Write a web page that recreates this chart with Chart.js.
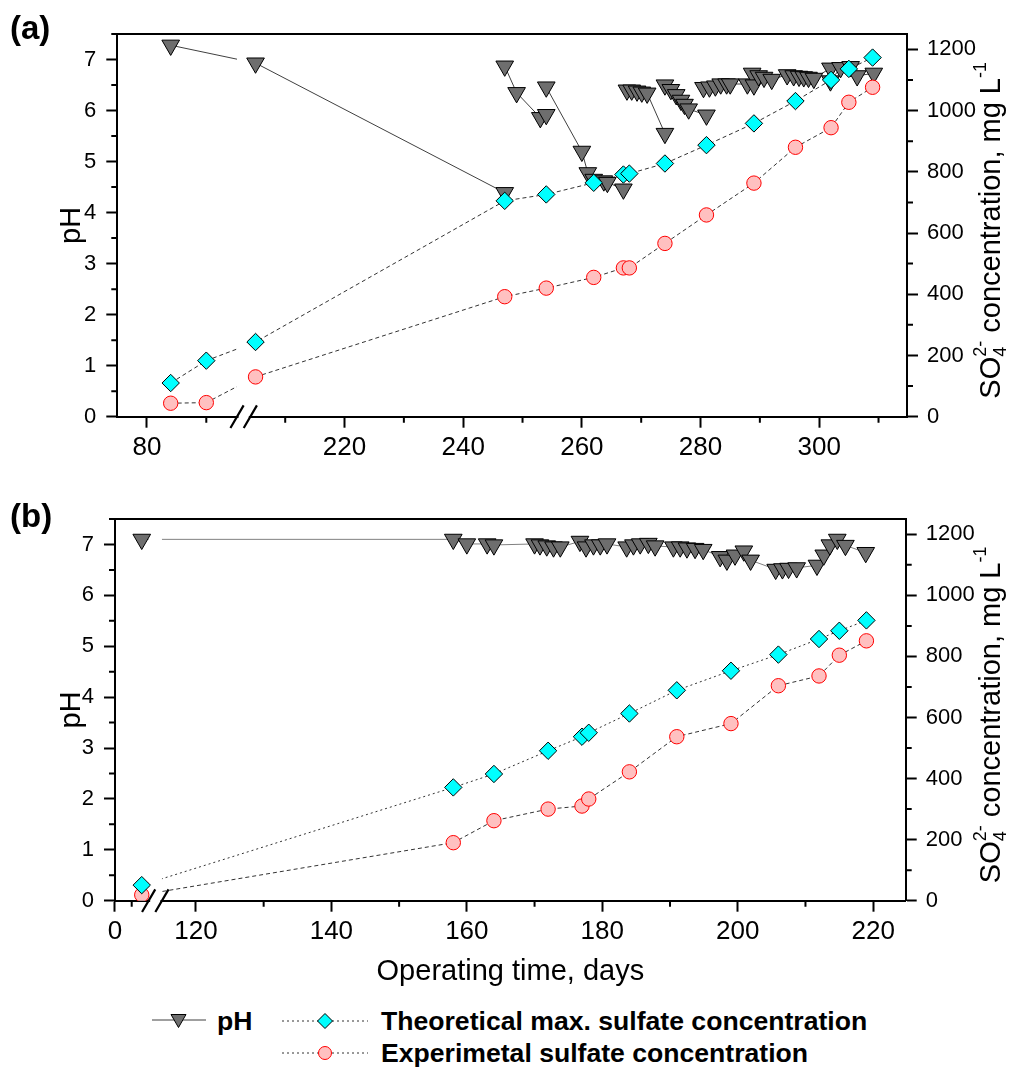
<!DOCTYPE html>
<html>
<head>
<meta charset="utf-8">
<title>pH and sulfate concentration vs operating time</title>
<script src="https://cdn.jsdelivr.net/npm/chart.js@4.4.1/dist/chart.umd.min.js"></script>
<style>
html,body{margin:0;padding:0;background:#fff;}
body{position:relative;width:1034px;height:1068px;overflow:hidden;font-family:"Liberation Sans",Arial,sans-serif;color:#000;}
canvas{position:absolute;left:0;}
#ca{top:0;}
#cb{top:480px;}
.panel{position:absolute;left:10px;font-weight:bold;font-size:33px;line-height:33px;}
.lg-text{position:absolute;font-weight:bold;font-size:26.6px;line-height:30px;white-space:nowrap;}
.lg-icon{position:absolute;overflow:visible;}
</style>
</head>
<body>
<canvas id="ca" width="1034" height="480"></canvas>
<canvas id="cb" width="1034" height="520"></canvas>
<div class="panel" style="top:11px">(a)</div>
<div class="panel" style="top:499px">(b)</div>

<svg class="lg-icon" style="left:152px;top:1010px" width="54" height="22">
  <line x1="0" y1="10" x2="54" y2="10" stroke="#404040" stroke-width="1"/>
  <polygon points="19,4.5 34,4.5 26.5,17.5" fill="#6E6E6E" stroke="#000" stroke-width="1"/>
</svg>
<div class="lg-text" id="lg0" style="left:217px;top:1006px"></div>
<svg class="lg-icon" style="left:282px;top:1010px" width="86" height="22">
  <line x1="0" y1="11" x2="86" y2="11" stroke="#333" stroke-width="1" stroke-dasharray="2,3"/>
  <polygon points="43,3.5 50.5,11 43,18.5 35.5,11" fill="#00FFFF" stroke="#000" stroke-width="1"/>
</svg>
<div class="lg-text" id="lg1" style="left:381px;top:1006px"></div>
<svg class="lg-icon" style="left:282px;top:1042px" width="86" height="22">
  <line x1="0" y1="11" x2="86" y2="11" stroke="#333" stroke-width="1" stroke-dasharray="2,3"/>
  <circle cx="43" cy="11" r="6.5" fill="#FFC0C0" stroke="#FF0000" stroke-width="1"/>
</svg>
<div class="lg-text" id="lg2" style="left:381px;top:1038px"></div>

<script>
// ================= DATA =================
const seriesNames = ['pH', 'Theoretical max. sulfate concentration', 'Experimetal sulfate concentration'];

// ---- Panel (a) ----
const sulfDaysA = [84, 90, 205, 247, 254, 262, 267, 268, 274, 281, 289, 296, 302, 305, 309];
const theoA     = [110, 183, 244, 705, 726, 764, 791, 794, 827, 887, 958, 1031, 1100, 1136, 1173];
const expA      = [44, 46, 130, 392, 420, 455, 486, 486, 566, 659, 763, 880, 944, 1027, 1076];
// null = break in the pH line
const phDaysA = [84, 205, 247, null,
  247, 249, 253, 254, null,
  254, 260, 261, 262, 263.7, 264.3, 267, null,
  267.6, 268.4, 269.3, 270.1, 271, 274, null,
  274, 275, 275.9, 276.7, 277.3, 278, 281, null,
  280.5, 281.5, 282.5, 283.4, 284.4, 285, 287.9, 288.7, 289, 289.8, 290.7, 292,
  294.6, 295.7, 296.6, 297.4, 298.2, 299.1, 301.9, 301.9, 303.6, 305.3, 306.4, 309.2];
const phA = [7.28, 6.93, 4.39, null,
  6.87, 6.35, 5.86, 5.92, null,
  6.46, 5.20, 4.78, 4.65, 4.62, 4.59, 4.46, null,
  6.40, 6.40, 6.38, 6.36, 6.34, 5.55, null,
  6.50, 6.41, 6.31, 6.20, 6.12, 6.03, 5.91, null,
  6.45, 6.46, 6.48, 6.52, 6.52, 6.52, 6.52, 6.73, 6.50, 6.68, 6.65, 6.61,
  6.70, 6.68, 6.67, 6.66, 6.65, 6.63, 6.83, 6.58, 6.84, 6.86, 6.68, 6.73];

// ---- Panel (b) ----
const sulfDaysB = [16, 158, 164, 172, 177, 178, 184, 191, 199, 206, 212, 215, 219];
const theoB     = [51, 371, 415, 491, 537, 550, 613, 689, 753, 806, 857, 884, 918];
const expB      = [19, 190, 262, 300, 310, 333, 422, 537, 580, 704, 736, 804, 851];
const phDaysB = [16, 158, 160, 163, 164, 170, 170.8, 171.8, 172.8, 173.8, 176.7, 177.6, 178.7, 179.7, 180.7,
  183.6, 184.6, 185.6, 186.8, 187.8, 190.5, 191.5, 192.5, 193.7, 194.9, 197.4, 198.4, 199.6, 200.9, 201.9,
  205.6, 206.6, 207.5, 208.7, 211.7, 212.7, 213.6, 214.7, 215.9, 218.9];
const phB = [7.10, 7.10, 7.01, 7.01, 6.99, 7.01, 6.99, 6.97, 6.95, 6.95, 7.06, 6.95, 6.99, 6.99, 7.01,
  6.95, 6.99, 7.01, 7.02, 6.97, 6.95, 6.95, 6.93, 6.92, 6.90, 6.76, 6.69, 6.79, 6.87, 6.69,
  6.51, 6.52, 6.53, 6.54, 6.59, 6.79, 6.99, 7.10, 6.98, 6.84];

// ---- Tick values / labels ----
const xMajorA = [80, 220, 240, 260, 280, 300];
const xMinorA = [90, 210, 230, 250, 270, 290, 310];
const xMajorB = [0, 120, 140, 160, 180, 200, 220];
const xMinorB = [10, 130, 150, 170, 190, 210];
const phTicks = [0, 1, 2, 3, 4, 5, 6, 7];
const phMinor = [0.5, 1.5, 2.5, 3.5, 4.5, 5.5, 6.5, 7.5];
const concTicks = [0, 200, 400, 600, 800, 1000, 1200];
const concMinor = [100, 300, 500, 700, 900, 1100];

// ================= RENDERING =================
document.getElementById('lg0').textContent = seriesNames[0];
document.getElementById('lg1').textContent = seriesNames[1];
document.getElementById('lg2').textContent = seriesNames[2];

const FONT = '"Liberation Sans", Arial, sans-serif';
const MAJOR = 11, MINOR = 6, GAP = 13.3;

// broken axis: left segment squeezed into the right segment's day units
function makeMap(b) {
  return d => d <= b.leftEnd ? b.rightStart - (b.leftEnd - d) * b.leftScale : d;
}

function drawRightTitle(ctx, x, yc, size) {
  const big = size + 'px ' + FONT, small = Math.round(size * 0.62) + 'px ' + FONT;
  const parts = [
    {t: 'SO', f: big, dy: 0, adv: true},
    {t: '4', f: small, dy: size * 0.2, adv: false},
    {t: '2-', f: small, dy: -size * 0.48, adv: true, stacked: true},
    {t: ' concentration, mg L', f: big, dy: 0, adv: true},
    {t: '-1', f: small, dy: -size * 0.48, adv: true}
  ];
  ctx.save();
  let total = 0;
  const widths = parts.map(p => { ctx.font = p.f; return ctx.measureText(p.t).width; });
  parts.forEach((p, i) => {
    if (p.stacked) total += Math.max(widths[i], widths[i - 1]);
    else if (p.adv) total += widths[i];
  });
  ctx.translate(x, yc);
  ctx.rotate(-Math.PI / 2);
  ctx.fillStyle = '#000';
  ctx.textBaseline = 'alphabetic';
  ctx.textAlign = 'left';
  let u = -total / 2;
  parts.forEach((p, i) => {
    ctx.font = p.f;
    ctx.fillText(p.t, u, p.dy);
    if (p.stacked) u += Math.max(widths[i], widths[i - 1]);
    else if (p.adv) u += widths[i];
  });
  ctx.restore();
}

function decoPlugin(cfg) {
  return {
    id: 'deco' + cfg.name,
    beforeDatasetsDraw(chart) {
      const {ctx, chartArea: a, scales} = chart;
      const sx = scales.x, sy = scales.y, sy2 = scales.y2;
      ctx.save();
      ctx.strokeStyle = '#000';
      ctx.lineWidth = 2;
      ctx.beginPath();
      ctx.moveTo(a.left - 1, a.top); ctx.lineTo(a.right + 1, a.top);
      cfg.minorX.forEach(d => { const p = sx.getPixelForValue(cfg.map(d)); ctx.moveTo(p, a.bottom); ctx.lineTo(p, a.bottom + MINOR); });
      phMinor.forEach(v => { const p = sy.getPixelForValue(v); ctx.moveTo(a.left, p); ctx.lineTo(a.left - MINOR, p); });
      concMinor.forEach(v => { const p = sy2.getPixelForValue(v); ctx.moveTo(a.right, p); ctx.lineTo(a.right + MINOR, p); });
      ctx.stroke();
      const xb = sx.getPixelForValue(cfg.brk.rightStart);
      ctx.fillStyle = '#fff';
      ctx.fillRect(xb - GAP / 2 + 1.5, a.bottom - 2, GAP - 3, 4);
      ctx.restore();
    },
    beforeDatasetDraw(chart, args) {
      const ds = chart.data.datasets[args.index];
      if (!ds.isLine) return;
      const ctx = chart.ctx;
      const xb = chart.scales.x.getPixelForValue(cfg.brk.rightStart);
      ctx.save();
      ctx.beginPath();
      ctx.rect(0, 0, xb - GAP / 2, chart.height);
      ctx.rect(xb + GAP / 2, 0, chart.width - xb - GAP / 2, chart.height);
      ctx.clip();
    },
    afterDatasetDraw(chart, args) {
      if (chart.data.datasets[args.index].isLine) chart.ctx.restore();
    },
    afterDatasetsDraw(chart) {
      const {ctx, chartArea: a} = chart;
      const xb = chart.scales.x.getPixelForValue(cfg.brk.rightStart);
      ctx.save();
      ctx.strokeStyle = '#000';
      ctx.lineWidth = 2.2;
      ctx.beginPath();
      [xb - GAP / 2, xb + GAP / 2].forEach(cx => {
        ctx.moveTo(cx - 6.6, a.bottom + 11.3);
        ctx.lineTo(cx + 6.6, a.bottom - 11.3);
      });
      ctx.stroke();
      ctx.restore();
    },
    afterDraw(chart) {
      const a = chart.chartArea;
      drawRightTitle(chart.ctx, cfg.rtX, (a.top + a.bottom) / 2 + 5, 29);
    }
  };
}

function makeChart(id, cfg) {
  const map = makeMap(cfg.brk);
  cfg.map = map;
  const P = (days, vals) => days.map((d, i) => ({x: d === null ? null : map(d), y: vals[i]}));
  const markerBase = {showLine: false, pointBorderWidth: 1, pointHoverRadius: 0};
  const lineBase = {isLine: true, showLine: true, pointRadius: 0, pointHoverRadius: 0, borderWidth: 1, fill: false, tension: 0, spanGaps: false};
  const datasets = [
    Object.assign({label: seriesNames[1], data: P(cfg.sDays, cfg.theo), yAxisID: 'y2', pointStyle: 'rectRot', pointRadius: 8.7,
      pointBackgroundColor: '#00FFFF', pointBorderColor: '#000', order: 0}, markerBase),
    Object.assign({label: seriesNames[2], data: P(cfg.sDays, cfg.exp), yAxisID: 'y2', pointStyle: 'circle', pointRadius: 7.2,
      pointBackgroundColor: '#FFC0C0', pointBorderColor: '#FF0000', order: 1}, markerBase),
    Object.assign({label: seriesNames[0], data: P(cfg.phDays, cfg.ph), yAxisID: 'y', pointStyle: 'triangle', pointRotation: 180, pointRadius: 10.2,
      pointBackgroundColor: '#6E6E6E', pointBorderColor: '#000', order: 2}, markerBase),
    Object.assign({label: seriesNames[1] + ' (line)', data: P(cfg.sDays, cfg.theo), yAxisID: 'y2', borderColor: '#333', borderDash: cfg.dashTheo, order: 10}, lineBase),
    Object.assign({label: seriesNames[2] + ' (line)', data: P(cfg.sDays, cfg.exp), yAxisID: 'y2', borderColor: '#333', borderDash: cfg.dashExp, order: 11}, lineBase),
    Object.assign({label: seriesNames[0] + ' (line)', data: P(cfg.phDays, cfg.ph), yAxisID: 'y', borderColor: cfg.phLine, order: 12}, lineBase)
  ];
  const gridOpt = {display: true, drawOnChartArea: false, drawTicks: true, tickLength: MAJOR, tickWidth: 2, tickColor: '#000', color: '#000'};
  const borderOpt = {display: true, color: '#000', width: 2};
  return new Chart(document.getElementById(id), {
    type: 'line',
    data: {datasets},
    plugins: [decoPlugin(cfg)],
    options: {
      responsive: false,
      animation: false,
      devicePixelRatio: 1,
      events: [],
      layout: {padding: {top: cfg.padTop, left: 0, right: 0, bottom: 0}},
      plugins: {legend: {display: false}, tooltip: {enabled: false}, title: {display: false}},
      scales: {
        x: {
          type: 'linear', position: 'bottom', min: cfg.xMin, max: cfg.xMax,
          afterBuildTicks: s => { s.ticks = cfg.xMajor.map(d => ({value: map(d)})); },
          afterFit: s => { s.height = cfg.xH; },
          ticks: {callback: (v, i) => String(cfg.xMajor[i]), font: {family: FONT, size: 26}, color: '#000', padding: 5,
            autoSkip: false, maxRotation: 0, minRotation: 0},
          grid: gridOpt, border: borderOpt,
          title: cfg.xTitle ? {display: true, text: 'Operating time, days', font: {family: FONT, size: 29}, color: '#000', padding: {top: 0, bottom: 11}} : {display: false}
        },
        y: {
          type: 'linear', position: 'left', min: 0, max: 7.5,
          afterBuildTicks: s => { s.ticks = phTicks.map(v => ({value: v})); },
          afterFit: s => { s.width = cfg.yW; },
          ticks: {callback: v => String(v), font: {family: FONT, size: 22}, color: '#000', padding: 10, autoSkip: false},
          grid: gridOpt, border: borderOpt,
          title: {display: true, text: 'pH', font: {family: FONT, size: 29}, color: '#000', padding: {top: 55, bottom: 0}}
        },
        y2: {
          type: 'linear', position: 'right', min: 0, max: 1250,
          afterBuildTicks: s => { s.ticks = concTicks.map(v => ({value: v})); },
          afterFit: s => { s.width = cfg.y2W; },
          ticks: {callback: v => String(v), font: {family: FONT, size: 22}, color: '#000', padding: 9, autoSkip: false},
          grid: gridOpt, border: borderOpt
        }
      }
    }
  });
}

makeChart('ca', {
  name: 'A',
  sDays: sulfDaysA, theo: theoA, exp: expA, phDays: phDaysA, ph: phA,
  brk: {leftEnd: 96.3, rightStart: 203.0, leftScale: 1},
  xMin: 181.7, xMax: 314.8, xMajor: xMajorA, minorX: xMinorA,
  padTop: 34, yW: 117.3, y2W: 127, xH: 63.3,
  xTitle: false, phLine: '#404040', dashTheo: [4, 3], dashExp: [4, 3], rtX: 1000
});

makeChart('cb', {
  name: 'B',
  sDays: sulfDaysB, theo: theoB, exp: expB, phDays: phDaysB, ph: phB,
  brk: {leftEnd: 24.1, rightStart: 114.0, leftScale: 0.247},
  xMin: 108.05, xMax: 224.8, xMajor: xMajorB, minorX: xMinorB,
  padTop: 39, yW: 115, y2W: 128.3, xH: 99.3,
  xTitle: true, phLine: '#808080', dashTheo: [2, 3], dashExp: [4, 3], rtX: 1000
});
</script>
</body>
</html>
